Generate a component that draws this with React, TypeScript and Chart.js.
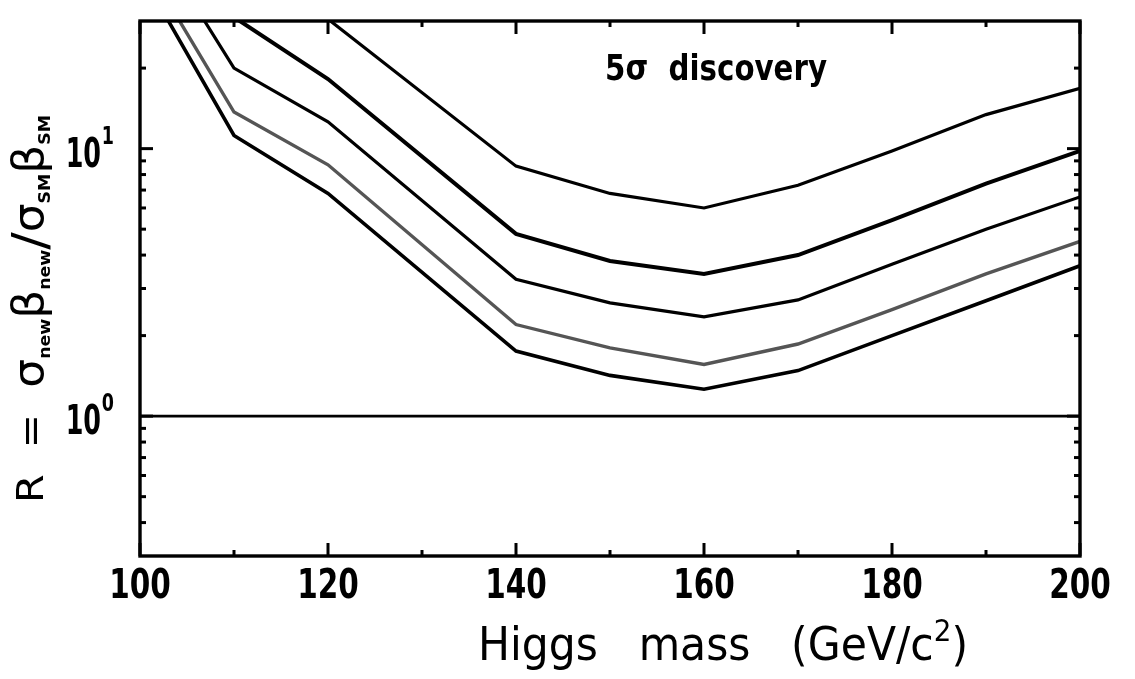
import React, { useEffect, useRef } from "react";
import { Chart, registerables } from "chart.js";

Chart.register(...registerables);

// Higgs mass (GeV/c^2)
const masses = [100, 110, 120, 140, 150, 160, 170, 180, 190, 200];
// R = sigma_new*beta_new / sigma_SM*beta_SM needed for 5 sigma discovery
const curve1 = [120, 57, 30.5, 8.6, 6.8, 6.0, 7.3, 9.8, 13.4, 16.8];
const curve2 = [80, 31, 18.2, 4.8, 3.8, 3.4, 4.0, 5.4, 7.4, 9.8];
const curve3 = [73, 20, 12.6, 3.25, 2.65, 2.35, 2.72, 3.7, 5.0, 6.6];
const curve4 = [53, 13.7, 8.7, 2.2, 1.8, 1.56, 1.86, 2.5, 3.4, 4.5];
const curve5 = [46, 11.2, 6.8, 1.75, 1.42, 1.26, 1.48, 2.0, 2.7, 3.65];
const smLine = [1, 1, 1, 1, 1, 1, 1, 1, 1, 1];

const xTickLabels = [100, 120, 140, 160, 180, 200];
const xMinorTicks = [110, 130, 150, 170, 190];
const yTickLabels = [1, 10];
const yTickExponents = ["0", "1"];
const yMinorTicks = [0.4, 0.5, 0.6, 0.7, 0.8, 0.9, 2, 3, 4, 5, 6, 7, 8, 9, 20];

const FONT = "'DejaVu Sans', 'Liberation Sans', sans-serif";

type Piece = [string, string, number];

// draw a row of text pieces (font, baseline offset) scaled to a target length
function drawRow(
  ctx: CanvasRenderingContext2D,
  pieces: Piece[],
  x: number,
  y: number,
  targetWidth: number,
  rotate: boolean
) {
  ctx.save();
  let total = 0;
  pieces.forEach(([t, f]) => {
    ctx.font = f;
    total += ctx.measureText(t).width;
  });
  ctx.translate(x, y);
  if (rotate) ctx.rotate(-Math.PI / 2);
  ctx.scale(targetWidth / total, 1);
  ctx.textAlign = "left";
  ctx.textBaseline = "alphabetic";
  let cx = 0;
  pieces.forEach(([t, f, dy]) => {
    ctx.font = f;
    ctx.fillText(t, cx, dy);
    cx += ctx.measureText(t).width;
  });
  ctx.restore();
}

function drawScaled(
  ctx: CanvasRenderingContext2D,
  text: string,
  x: number,
  y: number,
  font: string,
  sx: number,
  align: CanvasTextAlign
) {
  ctx.save();
  ctx.font = font;
  ctx.translate(x, y);
  ctx.scale(sx, 1);
  ctx.textAlign = align;
  ctx.textBaseline = "alphabetic";
  ctx.fillText(text, 0, 0);
  ctx.restore();
}

const framePlugin = {
  id: "frameAndText",
  afterDraw(chart: any) {
    const { ctx, chartArea, scales } = chart;
    const { left, right, top, bottom } = chartArea;
    const xs = scales.x;
    const ys = scales.y;
    ctx.save();
    ctx.strokeStyle = "#000";
    ctx.fillStyle = "#000";
    ctx.lineCap = "butt";

    // frame
    ctx.lineWidth = 3.4;
    ctx.strokeRect(left, top, right - left, bottom - top);

    // inward ticks
    const tick = (x1: number, y1: number, x2: number, y2: number) => {
      ctx.beginPath();
      ctx.moveTo(x1, y1);
      ctx.lineTo(x2, y2);
      ctx.stroke();
    };
    ctx.lineWidth = 3;
    xTickLabels.forEach((v) => {
      const px = xs.getPixelForValue(v);
      tick(px, bottom, px, bottom - 13);
      tick(px, top, px, top + 13);
    });
    xMinorTicks.forEach((v) => {
      const px = xs.getPixelForValue(v);
      tick(px, bottom, px, bottom - 6);
      tick(px, top, px, top + 6);
    });
    yTickLabels.forEach((v) => {
      const py = ys.getPixelForValue(v);
      tick(left, py, left + 13, py);
      tick(right, py, right - 13, py);
    });
    yMinorTicks.forEach((v) => {
      const py = ys.getPixelForValue(v);
      tick(left, py, left + 6, py);
      tick(right, py, right - 6, py);
    });

    // x tick labels
    xTickLabels.forEach((v) => {
      const px = xs.getPixelForValue(v);
      drawScaled(ctx, String(v), px, bottom + 42, `bold 41px ${FONT}`, 0.72, "center");
    });

    // y tick labels 10^n
    yTickLabels.forEach((v, i) => {
      const py = ys.getPixelForValue(v);
      const exp = yTickExponents[i];
      drawScaled(ctx, exp, 114, py - 5, `bold 25px ${FONT}`, 0.7, "right");
      drawScaled(ctx, "10", 101, py + 18, `bold 41px ${FONT}`, 0.62, "right");
    });

    // annotation
    drawRow(ctx, [["5σ  discovery", `bold 36px ${FONT}`, 0]], 605, 80, 222, false);

    // x title
    drawRow(
      ctx,
      [
        ["Higgs   mass   (GeV/c", `46px ${FONT}`, 0],
        ["2", `30px ${FONT}`, -19],
        [")", `46px ${FONT}`, 0],
      ],
      478,
      660,
      490,
      false
    );

    // y title, rotated (reads bottom to top)
    const big = `38px ${FONT}`;
    const greek = `42px ${FONT}`;
    const small = `bold 16px ${FONT}`;
    drawRow(
      ctx,
      [
        ["R", big, 0],
        ["  =  ", big, 0],
        ["σ", greek, 0],
        ["new", small, 7],
        ["β", greek, 0],
        ["new", small, 7],
        ["/", `48px ${FONT}`, 3],
        ["σ", greek, 0],
        ["SM", small, 7],
        ["β", greek, 0],
        ["SM", small, 7],
      ],
      43,
      503,
      388,
      true
    );

    ctx.restore();
  },
};

export default function App() {
  const canvasRef = useRef<HTMLCanvasElement | null>(null);

  useEffect(() => {
    document.body.style.margin = "0";
    const canvas = canvasRef.current;
    if (!canvas) return;
    const toPts = (ys: number[]) => masses.map((m, i) => ({ x: m, y: ys[i] }));
    const line = (data: number[], color: string, width: number) => ({
      data: toPts(data),
      borderColor: color,
      borderWidth: width,
      pointRadius: 0,
      tension: 0,
      fill: false,
    });
    const chart = new Chart(canvas, {
      type: "line",
      data: {
        datasets: [
          line(curve1, "#000", 3.2),
          line(curve2, "#000", 4),
          line(curve3, "#000", 3.2),
          line(curve4, "#555", 3.4),
          line(curve5, "#000", 3.6),
          line(smLine, "#000", 2.8),
        ],
      },
      options: {
        responsive: false,
        animation: false,
        layout: { padding: { left: 140, right: 55, top: 21, bottom: 123 } },
        plugins: { legend: { display: false }, tooltip: { enabled: false } },
        scales: {
          x: {
            type: "linear",
            min: 100,
            max: 200,
            ticks: { display: false },
            grid: { display: false },
            border: { display: false },
            afterFit: (s: any) => {
              s.height = 0;
            },
          },
          y: {
            type: "logarithmic",
            min: 0.3,
            max: 30,
            ticks: { display: false },
            grid: { display: false },
            border: { display: false },
            afterFit: (s: any) => {
              s.width = 0;
            },
          },
        },
      },
      plugins: [framePlugin],
    });
    return () => chart.destroy();
  }, []);

  return (
    <div style={{ width: 1135, height: 679, background: "#fff" }}>
      <canvas ref={canvasRef} width={1135} height={679} />
    </div>
  );
}
